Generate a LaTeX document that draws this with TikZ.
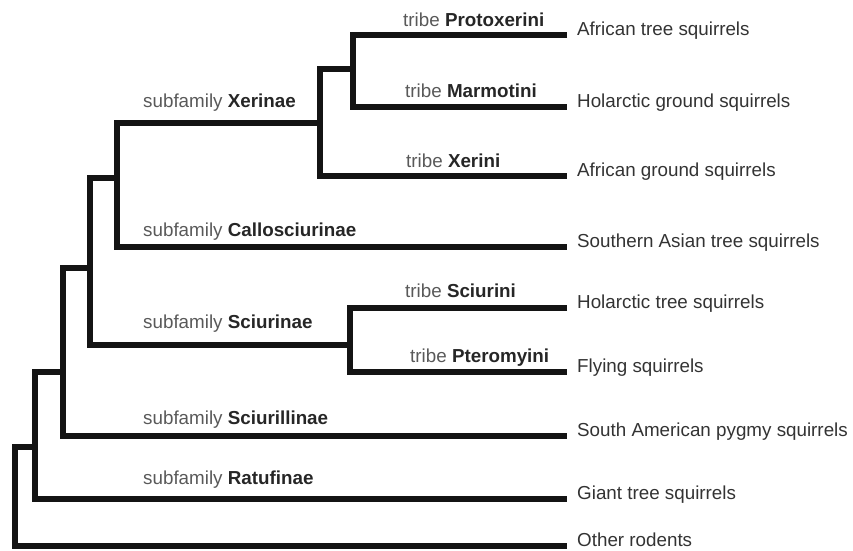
\documentclass[tikz,border=0pt]{standalone}
\usepackage{fontspec}
\setmainfont{Liberation Sans}

% bold taxon name inside a clade label
\newcommand{\taxon}[1]{\textcolor{black!85}{\textbf{#1}}}

\begin{document}
\begin{tikzpicture}[
		x=1pt, y=-1pt,
		font=\fontsize{18.8}{22}\selectfont,
		% Style for the tree branches
		branch/.style={draw=black!92, line width=5.6pt, line join=miter},
		% Leaf names and clade labels
		leaf/.style={anchor=base west, inner xsep=10pt, inner ysep=0pt, text=black!80},
		clade/.style={anchor=base west, inner sep=0pt, text=black!65}
		]
	\useasboundingbox (0,0) rectangle (853,550);

	% ==============================================================================
	% LEAVES
	% ==============================================================================
	\node[leaf] (afrTree)   at (567,35)  {African tree squirrels};
	\node[leaf] (holGround) at (567,107) {Holarctic ground squirrels};
	\node[leaf] (afrGround) at (567,176) {African ground squirrels};
	\node[leaf] (seAsia)    at (567,247) {Southern Asian tree squirrels};
	\node[leaf] (holTree)   at (567,308) {Holarctic tree squirrels};
	\node[leaf] (flying)    at (567,372) {Flying squirrels};
	\node[leaf] (saPygmy)   at (567,436) {South American pygmy squirrels};
	\node[leaf] (giant)     at (567,499) {Giant tree squirrels};
	\node[leaf] (other)     at (567,546) {Other rodents};

	% ==============================================================================
	% INNER NODES
	% ==============================================================================
	\coordinate (protoMarm)     at (353,69);
	\coordinate (xerinae)       at (320,123);
	\coordinate (xerCallo)      at (117,178);
	\coordinate (sciurinae)     at (350,345);
	\coordinate (withSciurinae) at (90,268);
	\coordinate (withSciurill)  at (63,372);
	\coordinate (withRatuf)     at (35,447);
	\coordinate (root)          at (15,447);

	% Branches, one path per split
	\draw[branch] (afrTree.base west) -| (protoMarm) |- (holGround.base west);
	\draw[branch] (protoMarm) -| (xerinae) |- (afrGround.base west);
	\draw[branch] (xerinae) -| (xerCallo) |- (seAsia.base west);
	\draw[branch] (holTree.base west) -| (sciurinae) |- (flying.base west);
	\draw[branch] (xerCallo) -| (withSciurinae) |- (sciurinae);
	\draw[branch] (withSciurinae) -| (withSciurill) |- (saPygmy.base west);
	\draw[branch] (withSciurill) -| (withRatuf) |- (giant.base west);
	\draw[branch] (withRatuf) -| (root) |- (other.base west);

	% ==============================================================================
	% CLADE LABELS
	% ==============================================================================
	\node[clade] (lblProto)     at (403,26)  {tribe \taxon{Protoxerini}};
	\node[clade] (lblMarmo)     at (405,97)  {tribe \taxon{Marmotini}};
	\node[clade] (lblXerini)    at (406,167) {tribe \taxon{Xerini}};
	\node[clade] (lblXerinae)   at (143,107) {subfamily \taxon{Xerinae}};
	\node[clade] (lblCallo)     at (143,236) {subfamily \taxon{Callosciurinae}};
	\node[clade] (lblSciurini)  at (405,297) {tribe \taxon{Sciurini}};
	\node[clade] (lblSciurinae) at (143,328) {subfamily \taxon{Sciurinae}};
	\node[clade] (lblPtero)     at (410,362) {tribe \taxon{Pteromyini}};
	\node[clade] (lblSciurill)  at (143,424) {subfamily \taxon{Sciurillinae}};
	\node[clade] (lblRatuf)     at (143,484) {subfamily \taxon{Ratufinae}};
\end{tikzpicture}
\end{document}
